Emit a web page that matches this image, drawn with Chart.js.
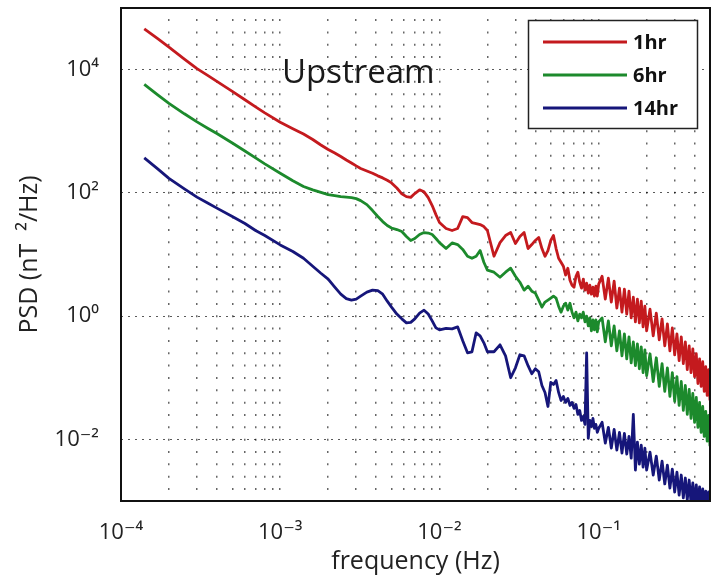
<!DOCTYPE html>
<html>
<head>
<meta charset="utf-8">
<script src="https://cdn.jsdelivr.net/npm/chart.js@4.4.0/dist/chart.umd.min.js"></script>
<style>
  html, body { margin: 0; padding: 0; background: #fff; }
  #wrap { width: 719px; height: 588px; }
</style>
</head>
<body>
<div id="wrap"><canvas id="psd" width="719" height="588"></canvas></div>
<script>
// frequency bins (Hz)
const freq = [
  0.00014, 0.00017, 0.0002, 0.00025, 0.0003, 0.00035, 0.0004, 0.0005, 0.0006, 0.0007,
  0.0008, 0.001, 0.0012, 0.0014, 0.0016, 0.0018, 0.002, 0.0022, 0.0024, 0.0026,
  0.0028, 0.003, 0.0032, 0.0035, 0.0038, 0.0041, 0.0044, 0.0047, 0.005, 0.0054,
  0.0058, 0.0062, 0.0066, 0.007, 0.0075, 0.008, 0.0085, 0.009, 0.0095, 0.010,
  0.011, 0.012, 0.013, 0.014, 0.015, 0.016, 0.017, 0.018, 0.019, 0.020,
  0.022, 0.024, 0.026, 0.028, 0.030, 0.032, 0.034, 0.036, 0.038, 0.040,
  0.042, 0.044, 0.046, 0.048, 0.050, 0.052, 0.054, 0.056, 0.058, 0.060,
  0.062, 0.064, 0.066, 0.068, 0.070, 0.072, 0.074, 0.076, 0.078, 0.080,
  0.082, 0.084, 0.086, 0.088, 0.090, 0.092, 0.094, 0.096, 0.098, 0.100,
  0.105, 0.110, 0.115, 0.120, 0.125, 0.130, 0.135, 0.140, 0.145, 0.150,
  0.155, 0.160, 0.165, 0.170, 0.175, 0.180, 0.185, 0.190, 0.195, 0.200,
  0.21, 0.22, 0.23, 0.24, 0.25, 0.26, 0.27, 0.28, 0.29, 0.30,
  0.31, 0.32, 0.33, 0.34, 0.35, 0.36, 0.37, 0.38, 0.39, 0.40,
  0.41, 0.42, 0.43, 0.44, 0.45, 0.46, 0.47, 0.48, 0.49, 0.50
];

// PSD (nT^2/Hz)
const psd1hr = [
  46000, 31800, 23100, 14800, 10400, 8070, 6450, 4440, 3240, 2490,
  1990, 1400, 1100, 903, 735, 599, 506, 444, 390, 342,
  306, 274, 249, 227, 208, 189, 175, 160, 145, 120,
  96.5, 86.9, 84.5, 97.4, 112, 104, 83.8, 62.2, 44.4, 33.0,
  26.4, 24.5, 26.4, 41.2, 39.7, 33.0, 31.8, 30.6, 28.4, 24.5,
  9.37, 15.6, 20.3, 22.7, 15.1, 19.6, 22.7, 12.5, 14.5, 16.9,
  18.9, 12.5, 9.37, 11.6, 16.9, 20.3, 12.5, 8.69, 7.49, 6.45,
  4.62, 5.99, 3.83, 3.18, 2.95, 4.44, 5.16, 3.55, 2.84, 3.98,
  2.64, 3.42, 2.36, 3.18, 2.27, 2.95, 2.11, 3.06, 2.11, 3.30,
  4.44, 1.89, 4.13, 1.69, 3.69, 1.35, 2.84, 1.16, 2.74, 1.08,
  2.54, 0.937, 2.03, 0.807, 1.89, 0.778, 1.75, 0.670, 1.45, 0.577,
  1.30, 0.479, 1.12, 0.413, 0.903, 0.330, 0.749, 0.274, 0.645, 0.236,
  0.516, 0.189, 0.462, 0.169, 0.383, 0.135, 0.330, 0.121, 0.295, 0.104,
  0.245, 0.0807, 0.203, 0.0722, 0.182, 0.0599, 0.151, 0.0516, 0.135, 0.0428
];

const psd6hr = [
  5770, 3900, 2840, 1920, 1420, 1120, 920, 645, 479, 369,
  295, 208, 157, 127, 112, 102, 93.7, 90.3, 86.9, 85.3,
  83.8, 80.7, 74.9, 64.5, 51.6, 41.3, 34.2, 29.5, 26.9, 25.4,
  23.6, 19.6, 16.9, 18.2, 21.1, 22.7, 22.3, 21.1, 18.2, 15.6,
  12.5, 15.4, 14.5, 12.1, 9.37, 8.69, 9.37, 11.6, 7.49, 5.56,
  5.16, 4.28, 5.16, 5.99, 4.44, 3.55, 2.64, 3.06, 2.54, 2.36,
  1.82, 1.40, 1.69, 1.82, 1.96, 2.11, 1.96, 1.45, 1.16, 1.45,
  1.62, 1.25, 1.62, 1.16, 0.937, 1.16, 0.838, 1.08, 0.937, 1.16,
  0.807, 1.0, 0.695, 0.937, 0.577, 0.869, 0.599, 0.869, 0.556, 0.807,
  0.937, 0.383, 0.838, 0.330, 0.695, 0.274, 0.577, 0.227, 0.516, 0.203,
  0.462, 0.175, 0.383, 0.157, 0.355, 0.140, 0.318, 0.121, 0.284, 0.108,
  0.245, 0.0869, 0.211, 0.0722, 0.169, 0.0599, 0.145, 0.0497, 0.121, 0.0413,
  0.104, 0.0355, 0.0869, 0.0295, 0.0749, 0.0254, 0.0645, 0.0219, 0.0556, 0.0189,
  0.0479, 0.0157, 0.0398, 0.0130, 0.0342, 0.0112, 0.0284, 0.00937, 0.0245, 0.00778
];

const psd14hr = [
  369, 245, 172, 116, 85.3, 68.3, 56.6, 41.3, 31.8, 24.5,
  20.3, 14.3, 11.2, 8.69, 6.45, 4.97, 3.98, 2.95, 2.27, 1.92,
  1.82, 1.89, 2.11, 2.45, 2.64, 2.59, 2.27, 1.75, 1.40, 1.08,
  0.903, 0.778, 0.793, 0.903, 1.12, 1.25, 1.08, 0.838, 0.645, 0.599,
  0.633, 0.622, 0.670, 0.398, 0.254, 0.264, 0.536, 0.479, 0.369, 0.264,
  0.264, 0.342, 0.227, 0.1, 0.145, 0.236, 0.227, 0.157, 0.116, 0.140,
  0.125, 0.0749, 0.0577, 0.0342, 0.0838, 0.0778, 0.0903, 0.0577, 0.0428, 0.0497,
  0.0398, 0.0462, 0.0355, 0.0398, 0.0318, 0.0369, 0.0254, 0.0295, 0.0203, 0.0236,
  0.0175, 0.254, 0.0104, 0.0203, 0.0162, 0.0219, 0.0151, 0.0175, 0.0130, 0.0151,
  0.0189, 0.00869, 0.0157, 0.00722, 0.0145, 0.00670, 0.0130, 0.00599, 0.0125, 0.00577,
  0.0112, 0.00497, 0.0254, 0.00318, 0.00903, 0.00398, 0.00807, 0.00355, 0.00722, 0.00318,
  0.00622, 0.00264, 0.00536, 0.00219, 0.00444, 0.00189, 0.00383, 0.00162, 0.00330, 0.00140,
  0.00295, 0.00125, 0.00264, 0.00112, 0.00236, 0.00104, 0.00219, 0.000937, 0.00196, 0.000869,
  0.00182, 0.000807, 0.00169, 0.000749, 0.00157, 0.000695, 0.00145, 0.000670, 0.00140, 0.000622
];

const xDecades = [1e-4, 1e-3, 1e-2, 1e-1];
const xMinorSteps = [1, 2, 3, 4, 5, 6, 7, 8, 9];
const yTickValues = [1e-2, 1, 1e2, 1e4];

const sup = { "-": "\u207B", "0": "\u2070", "1": "\u00B9", "2": "\u00B2", "3": "\u00B3",
  "4": "\u2074", "5": "\u2075", "6": "\u2076", "7": "\u2077", "8": "\u2078", "9": "\u2079" };

function powLabel(v) {
  const e = Math.log10(v);
  if (Math.abs(e - Math.round(e)) > 1e-6) return "";
  return "10" + String(Math.round(e)).split("").map(c => sup[c]).join("");
}

const toPoints = ys => freq.map((f, i) => ({ x: f, y: ys[i] }));

const FONT = '"Open Sans", "DejaVu Sans", sans-serif';

const boxPlugin = {
  id: "boxAndLegend",
  afterDatasetsDraw(chart) {
    const { ctx, chartArea: a } = chart;
    ctx.save();
    // "Upstream" label
    ctx.fillStyle = "#1a1a1a";
    ctx.font = "33px " + FONT;
    ctx.textBaseline = "alphabetic";
    ctx.fillText("Upstream", 282, 83);

    // axes box
    ctx.strokeStyle = "#111";
    ctx.lineWidth = 2;
    ctx.strokeRect(a.left, a.top, a.right - a.left, a.bottom - a.top);

    // legend
    ctx.fillStyle = "#fff";
    ctx.fillRect(528, 20, 169, 108);
    ctx.lineWidth = 1.5;
    ctx.strokeStyle = "#222";
    ctx.strokeRect(528.5, 20.5, 169, 108);
    ctx.font = "bold 20px " + FONT;
    ctx.textBaseline = "middle";
    chart.data.datasets.forEach((ds, i) => {
      const y = 42 + i * 33;
      ctx.strokeStyle = ds.borderColor;
      ctx.lineWidth = 3;
      ctx.beginPath();
      ctx.moveTo(543, y);
      ctx.lineTo(627, y);
      ctx.stroke();
      ctx.fillStyle = "#111";
      ctx.fillText(ds.label, 633, y + 1);
    });
    ctx.restore();
  }
};

new Chart(document.getElementById("psd"), {
  type: "line",
  data: {
    datasets: [
      { label: "1hr", data: toPoints(psd1hr), borderColor: "#c41a1e" },
      { label: "6hr", data: toPoints(psd6hr), borderColor: "#1c8a2c" },
      { label: "14hr", data: toPoints(psd14hr), borderColor: "#16167a" }
    ]
  },
  options: {
    responsive: false,
    animation: false,
    devicePixelRatio: 1,
    layout: { padding: { top: 8, right: 9, left: 0, bottom: 0 } },
    elements: {
      line: { borderWidth: 2.8, tension: 0, borderJoinStyle: "round" },
      point: { radius: 0 }
    },
    plugins: {
      legend: { display: false },
      tooltip: { enabled: false }
    },
    scales: {
      x: {
        type: "logarithmic",
        min: 1e-4,
        max: 0.5,
        afterBuildTicks(scale) {
          const t = [];
          xDecades.forEach(d => xMinorSteps.forEach(m => {
            if (d * m <= 0.5) t.push({ value: d * m });
          }));
          scale.ticks = t;
        },
        afterFit(scale) {
          scale.height = 87;
          scale.paddingLeft = 0;
          scale.paddingRight = 0;
        },
        ticks: {
          autoSkip: false,
          maxRotation: 0,
          padding: 19,
          color: "#222",
          font: { family: FONT, size: 22 },
          callback: v => powLabel(v)
        },
        grid: {
          drawTicks: false,
          color: "rgba(0,0,0,0.6)",
          lineWidth: 1.5
        },
        border: { display: false, dash: [2, 10.34], dashOffset: 1.24 },
        title: {
          display: true,
          text: "frequency (Hz)",
          color: "#222",
          font: { family: FONT, size: 25 },
          padding: { top: 0, bottom: 11 }
        }
      },
      y: {
        type: "logarithmic",
        min: 1e-3,
        max: 1e5,
        afterBuildTicks(scale) {
          scale.ticks = yTickValues.map(v => ({ value: v }));
        },
        afterFit(scale) {
          scale.width = 121;
          scale.paddingTop = 0;
          scale.paddingBottom = 0;
        },
        ticks: {
          autoSkip: false,
          padding: 22,
          color: "#222",
          font: { family: FONT, size: 22 },
          callback: v => powLabel(v)
        },
        grid: {
          drawTicks: false,
          color: "rgba(0,0,0,0.65)",
          lineWidth: 1
        },
        border: { display: false, dash: [2, 5] },
        title: {
          display: true,
          text: "PSD (nT  \u00B2/Hz)",
          color: "#222",
          font: { family: FONT, size: 25 },
          padding: { top: 15, bottom: 0 }
        }
      }
    }
  },
  plugins: [boxPlugin]
});
</script>
</body>
</html>
